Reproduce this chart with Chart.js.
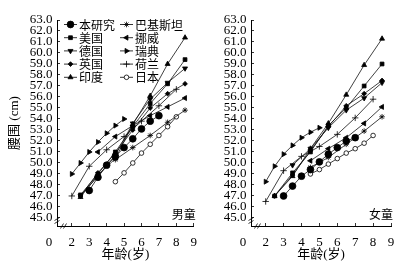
<!DOCTYPE html>
<html>
<head>
<meta charset="utf-8">
<script src="https://cdn.jsdelivr.net/npm/chart.js@4"></script>
<style>
  html, body { margin: 0; padding: 0; background: #fff; }
  #wrap { position: relative; width: 418px; height: 264px; }
  .panel { position: absolute; top: 0; width: 209px; height: 264px; }
  #left { left: 0; }
  #right { left: 209px; }
</style>
</head>
<body>
<div id="wrap">
  <div class="panel" id="left"><canvas id="boys"></canvas></div>
  <div class="panel" id="right"><canvas id="girls"></canvas></div>
</div>
<script>
// series names (legend order)
const seriesNames = ['本研究', '美国', '德国', '英国', '印度', '巴基斯坦', '挪威', '瑞典', '荷兰', '日本'];

// ages (years)
const ageStudy = [3, 3.5, 4, 4.5, 5, 5.5, 6, 6.5, 7];
const ageYearly = [2.5, 3.5, 4.5, 5.5, 6.5, 7.5, 8.5];
const ageFrom35 = [3.5, 4.5, 5.5, 6.5, 7.5, 8.5];
const ageFrom45 = [4.5, 5.5, 6.5, 7.5, 8.5];
const ageSweden = [2, 2.5, 3, 3.5, 4, 4.5, 5];
const ageNL = [2, 3, 4, 5, 6, 7, 8];
const ageJapan = [4.5, 5, 5.5, 6, 6.5, 7, 7.5, 8];

// 男童 waist circumference (cm)
const boysStudy = [47.5, 48.7, 49.8, 50.6, 51.4, 52.2, 53.1, 53.8, 54.3];
const boysUS = [47.1, 49.0, 51.0, 53.3, 55.4, 57.2, 59.4];
const boysDE = [47.0, 48.8, 50.7, 53.6, 55.8, 57.3, 58.6];
const boysUK = [47.0, 49.1, 50.9, 53.0, 55.0, 56.3, 57.2];
const boysIN = [46.9, 48.9, 50.4, 53.5, 56.1, 59.0, 61.4];
const boysPK = [50.3, 51.4, 52.5, 53.7, 54.8];
const boysNO = [51.0, 52.4, 53.4, 54.3, 55.1, 55.9];
const boysSE = [49.0, 50.0, 51.0, 51.9, 52.7, 53.4, 54.0];
const boysNL = [47.0, 49.7, 51.2, 52.4, 53.8, 55.2, 56.7];
const boysJP = [48.3, 49.1, 50.0, 50.9, 51.7, 52.5, 53.3, 54.2];

// 女童 waist circumference (cm)
const girlsStudy = [47.0, 47.9, 48.8, 49.4, 50.1, 50.8, 51.4, 52.0, 52.3];
const girlsUS = [47.0, 49.1, 51.0, 53.4, 55.0, 57.0, 59.0];
const girlsDE = [49.8, 51.3, 53.2, 54.8, 55.9, 57.3];
const girlsUK = [47.0, 48.9, 51.1, 53.3, 55.2, 56.3, 57.5];
const girlsIN = [47.0, 48.8, 51.3, 53.6, 56.2, 58.9, 61.3];
const girlsPK = [49.6, 50.5, 51.7, 52.9, 54.2];
const girlsNO = [50.2, 51.3, 52.3, 53.6, 55.1];
const girlsSE = [48.3, 49.7, 50.8, 51.6, 52.3, 52.8, 53.2];
const girlsNL = [46.5, 49.3, 50.6, 51.5, 52.6, 54.1, 55.8];
const girlsJP = [49.0, 49.4, 49.9, 50.4, 50.9, 51.3, 51.8, 52.5];

// axis ticks
const xTickValues = [2, 3, 4, 5, 6, 7, 8, 9];
const yTickValues = [45, 46, 47, 48, 49, 50, 51, 52, 53, 54, 55, 56, 57, 58, 59, 60, 61, 62, 63];

// marker per series, same order as seriesNames
const markers = [
  { style: 'circle', r: 3.4, fill: '#000' },
  { style: 'rect', r: 2.7, fill: '#000' },
  { style: 'triangle', rot: 180, r: 2.9, fill: '#000' },
  { style: 'rectRot', r: 2.4, fill: '#000' },
  { style: 'triangle', r: 2.9, fill: '#000' },
  { style: 'star', r: 2.8, fill: '#fff' },
  { style: 'triangle', rot: -90, r: 2.9, fill: '#000' },
  { style: 'triangle', rot: 90, r: 2.9, fill: '#000' },
  { style: 'cross', r: 3.2, fill: '#000' },
  { style: 'circle', r: 2.3, fill: '#fff' },
];

const SERIF = "'Liberation Serif', 'Noto Sans CJK SC', serif";
const CJK = "'Noto Sans CJK SC', sans-serif";
Chart.defaults.font.family = SERIF;
Chart.defaults.color = '#000';

function makeDatasets(ages, values) {
  return seriesNames.map((name, i) => ({
    label: name,
    data: ages[i].map((a, j) => ({ x: a, y: values[i][j] })),
    showLine: true,
    borderColor: '#111',
    borderWidth: 0.8,
    pointStyle: markers[i].style,
    rotation: markers[i].rot || 0,
    pointRadius: markers[i].r,
    pointBackgroundColor: markers[i].fill,
    pointBorderColor: '#000',
    pointBorderWidth: 0.8,
  }));
}

// two-column legend drawn inside the plot (left panel only)
const legendPlugin = {
  id: 'twoColLegend',
  afterDraw(chart) {
    if (!chart.options.plugins.twoColLegend.show) return;
    const ctx = chart.ctx;
    const { left, top } = chart.chartArea;
    ctx.save();
    ctx.font = '12px ' + CJK;
    ctx.textBaseline = 'middle';
    ctx.textAlign = 'left';
    chart.data.datasets.forEach((ds, i) => {
      const col = Math.floor(i / 5);
      const row = i % 5;
      const x0 = left + 7 + col * 56;
      const y = top + 4.5 + row * 13.2;
      ctx.strokeStyle = '#000';
      ctx.lineWidth = 0.8;
      ctx.beginPath();
      ctx.moveTo(x0, y);
      ctx.lineTo(x0 + 13, y);
      ctx.stroke();
      ctx.fillStyle = markers[i].fill;
      Chart.helpers.drawPoint(ctx, {
        pointStyle: markers[i].style,
        rotation: markers[i].rot || 0,
        radius: markers[i].r,
        borderWidth: 0.8,
      }, x0 + 6.5, y);
      ctx.fillStyle = '#000';
      ctx.fillText(ds.label, x0 + 15, y + 0.5);
    });
    ctx.restore();
  }
};

// origin "0", axis breaks, panel label
const decorPlugin = {
  id: 'decor',
  afterDraw(chart) {
    const { ctx, chartArea } = chart;
    const { left, right, bottom } = chartArea;
    ctx.save();
    ctx.fillStyle = '#000';
    ctx.font = '13px ' + SERIF;
    ctx.textAlign = 'center';
    ctx.textBaseline = 'middle';
    ctx.fillText('0', left - 8, bottom + 16.5);

    ctx.font = '12px ' + CJK;
    ctx.textAlign = 'right';
    ctx.fillText(chart.options.plugins.decor.label, right + 2, bottom - 12);

    ctx.strokeStyle = '#000';
    ctx.lineWidth = 0.8;
    [5, 8].forEach((dx) => {
      ctx.beginPath();
      ctx.moveTo(left + dx - 1.5, bottom + 2.5);
      ctx.lineTo(left + dx + 1.5, bottom - 2.5);
      ctx.stroke();
    });
    [4, 7].forEach((dy) => {
      ctx.beginPath();
      ctx.moveTo(left - 2.5, bottom - dy + 1.5);
      ctx.lineTo(left + 2.5, bottom - dy - 1.5);
      ctx.stroke();
    });
    ctx.restore();
  }
};

function createChart(canvasId, datasets, opts) {
  const ctx = document.getElementById(canvasId).getContext('2d');
  return new Chart(ctx, {
    type: 'scatter',
    data: { datasets: datasets },
    plugins: [legendPlugin, decorPlugin],
    options: {
      responsive: true,
      maintainAspectRatio: false,
      animation: false,
      events: [],
      layout: { padding: { left: 0, top: 20, right: opts.rightPad, bottom: 0 } },
      plugins: {
        legend: { display: false },
        tooltip: { enabled: false },
        twoColLegend: { show: opts.legend },
        decor: { label: opts.label },
      },
      scales: {
        x: {
          type: 'linear',
          min: opts.xMin,
          max: 9,
          afterBuildTicks: (s) => { s.ticks = xTickValues.map((v) => ({ value: v })); },
          afterFit: (s) => { s.height = 38; },
          grid: { drawOnChartArea: false, tickLength: -3, color: '#000', lineWidth: 0.8 },
          border: { color: '#000', width: 1 },
          ticks: { padding: 12, autoSkip: false, maxRotation: 0, font: { size: 13 }, callback: (v) => String(v) },
          title: { display: true, text: '年龄(岁)', font: { size: 13 }, padding: { top: 0, bottom: 1.5 } },
        },
        y: {
          type: 'linear',
          min: 44.27,
          max: 63,
          afterBuildTicks: (s) => { s.ticks = yTickValues.map((v) => ({ value: v })); },
          afterFit: (s) => { s.width = opts.yWidth; },
          grid: { drawOnChartArea: false, tickLength: -3, color: '#000', lineWidth: 0.8 },
          border: { color: '#000', width: 1 },
          ticks: { padding: 7.5, autoSkip: false, font: { size: 13 }, callback: (v) => v.toFixed(1) },
          title: { display: opts.yTitle, text: '腰围 (cm)', font: { size: 13 }, padding: { top: 7 } },
        },
      },
    },
  });
}

createChart('boys',
  makeDatasets(
    [ageStudy, ageYearly, ageYearly, ageYearly, ageYearly, ageFrom45, ageFrom35, ageSweden, ageNL, ageJapan],
    [boysStudy, boysUS, boysDE, boysUK, boysIN, boysPK, boysNO, boysSE, boysNL, boysJP]
  ),
  { label: '男童', legend: true, yTitle: true, yWidth: 57, rightPad: 11, xMin: 1.15 }
);

createChart('girls',
  makeDatasets(
    [ageStudy, ageYearly, ageFrom35, ageYearly, ageYearly, ageFrom45, ageFrom45, ageSweden, ageNL, ageJapan],
    [girlsStudy, girlsUS, girlsDE, girlsUK, girlsIN, girlsPK, girlsNO, girlsSE, girlsNL, girlsJP]
  ),
  { label: '女童', legend: false, yTitle: false, yWidth: 42, rightPad: 27, xMin: 1.18 }
);
</script>
</body>
</html>
